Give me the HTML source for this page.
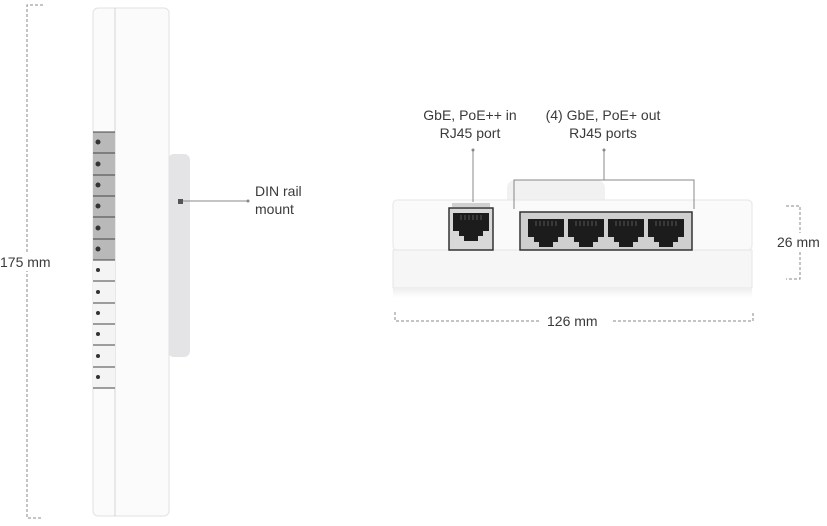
<!DOCTYPE html>
<html><head><style>
body{margin:0;width:827px;height:526px;background:#fff;overflow:hidden;position:relative;font-family:"Liberation Sans",sans-serif;color:#444}
.t{position:absolute;font-size:14px;line-height:18px;color:#3a3a3a;white-space:nowrap}
</style></head><body>
<svg width="827" height="526" style="position:absolute;left:0;top:0">
<defs>
<linearGradient id="sh" x1="0" y1="0" x2="0" y2="1"><stop offset="0" stop-color="#eee"/><stop offset="1" stop-color="#fff"/></linearGradient>
<g id="jack"><path d="M0 0h36v18h-6v5h-5v5h-14v-5h-5v-5h-6z" fill="#1c1c1c"/><g stroke="#666" stroke-width="0.8"><line x1="8" y1="2" x2="8" y2="7"/><line x1="12" y1="2" x2="12" y2="7"/><line x1="16" y1="2" x2="16" y2="7"/><line x1="20" y1="2" x2="20" y2="7"/><line x1="24" y1="2" x2="24" y2="7"/><line x1="28" y1="2" x2="28" y2="7"/></g></g>
</defs>
<g stroke="#888" stroke-width="1" fill="none">
<path d="M43 5H27V518H43" stroke-dasharray="3 2"/>
</g>
<rect x="168" y="154" width="22" height="203" rx="6" fill="#e4e4e6"/>
<rect x="93" y="8" width="76" height="508" rx="5" fill="#fbfbfb" stroke="#e2e2e2"/>
<line x1="115" y1="8" x2="115" y2="516" stroke="#d4d4d4"/>
<g>
<rect x="93" y="132" width="22" height="128" fill="#b9b9b9"/>
<rect x="93" y="260" width="22" height="128" fill="#f4f4f4"/>
<g stroke="#444" stroke-width="1">
<line x1="93" y1="132" x2="115" y2="132"/><line x1="93" y1="153" x2="115" y2="153"/><line x1="93" y1="175" x2="115" y2="175"/><line x1="93" y1="196" x2="115" y2="196"/><line x1="93" y1="217" x2="115" y2="217"/><line x1="93" y1="239" x2="115" y2="239"/><line x1="93" y1="260" x2="115" y2="260"/><line x1="93" y1="281" x2="115" y2="281"/><line x1="93" y1="303" x2="115" y2="303"/><line x1="93" y1="324" x2="115" y2="324"/><line x1="93" y1="345" x2="115" y2="345"/><line x1="93" y1="367" x2="115" y2="367"/><line x1="93" y1="388" x2="115" y2="388"/>
</g>
<g fill="#333">
<circle cx="98" cy="142" r="2.5"/><circle cx="98" cy="164" r="2.5"/><circle cx="98" cy="185" r="2.5"/><circle cx="98" cy="206" r="2.5"/><circle cx="98" cy="228" r="2.5"/><circle cx="98" cy="249" r="2.5"/><circle cx="98" cy="270" r="2"/><circle cx="98" cy="292" r="2"/><circle cx="98" cy="313" r="2"/><circle cx="98" cy="334" r="2"/><circle cx="98" cy="356" r="2"/><circle cx="98" cy="377" r="2"/>
</g>
</g>
<rect x="178" y="199" width="5" height="5" fill="#555"/>
<line x1="183" y1="201" x2="248" y2="201" stroke="#888"/><circle cx="248" cy="201" r="1.5" fill="#888"/>
<rect x="507" y="180" width="98" height="30" rx="8" fill="#f1f1f1"/>
<rect x="393" y="200" width="359" height="50" rx="4" fill="#fafafa" stroke="#e6e6e6"/>
<rect x="393" y="250" width="359" height="38" fill="#f6f6f6" stroke="#e6e6e6"/>
<rect x="393" y="288" width="359" height="10" fill="url(#sh)"/>
<rect x="452" y="203" width="38" height="4" fill="#d0d0d0"/>
<rect x="449" y="208" width="44" height="42" fill="#d8d8d8" stroke="#333" stroke-width="1.5"/>
<g transform="translate(453,213)"><use href="#jack"/></g>
<rect x="520" y="212" width="172" height="38" fill="#cfcfcf" stroke="#333" stroke-width="1.5"/>
<g transform="translate(528,219)"><use href="#jack"/></g>
<g transform="translate(568,219)"><use href="#jack"/></g>
<g transform="translate(608,219)"><use href="#jack"/></g>
<g transform="translate(648,219)"><use href="#jack"/></g>
<g stroke="#888" fill="none">
<path d="M514 209V180H694V209"/>
<line x1="604" y1="150" x2="604" y2="180"/>
<line x1="473" y1="150" x2="473" y2="202"/>
<path d="M786 206H800V279H786" stroke-dasharray="3 2"/>
<path d="M395 312V321H540" stroke-dasharray="3 2"/>
<path d="M613 321H753V312" stroke-dasharray="3 2"/>
</g>
<circle cx="473" cy="150" r="1.5" fill="#888"/><circle cx="604" cy="150" r="1.5" fill="#888"/>
</svg>
<div class="t" style="left:0;top:253px;background:#fff">175 mm</div>
<div class="t" style="left:255px;top:182px">DIN rail<br>mount</div>
<div class="t" style="left:420px;top:106px;width:100px;text-align:center">GbE, PoE++ in<br>RJ45 port</div>
<div class="t" style="left:533px;top:106px;width:140px;text-align:center">(4) GbE, PoE+ out<br>RJ45 ports</div>
<div class="t" style="left:777px;top:233px;background:#fff">26 mm</div>
<div class="t" style="left:547px;top:312px">126 mm</div>
</body></html>
